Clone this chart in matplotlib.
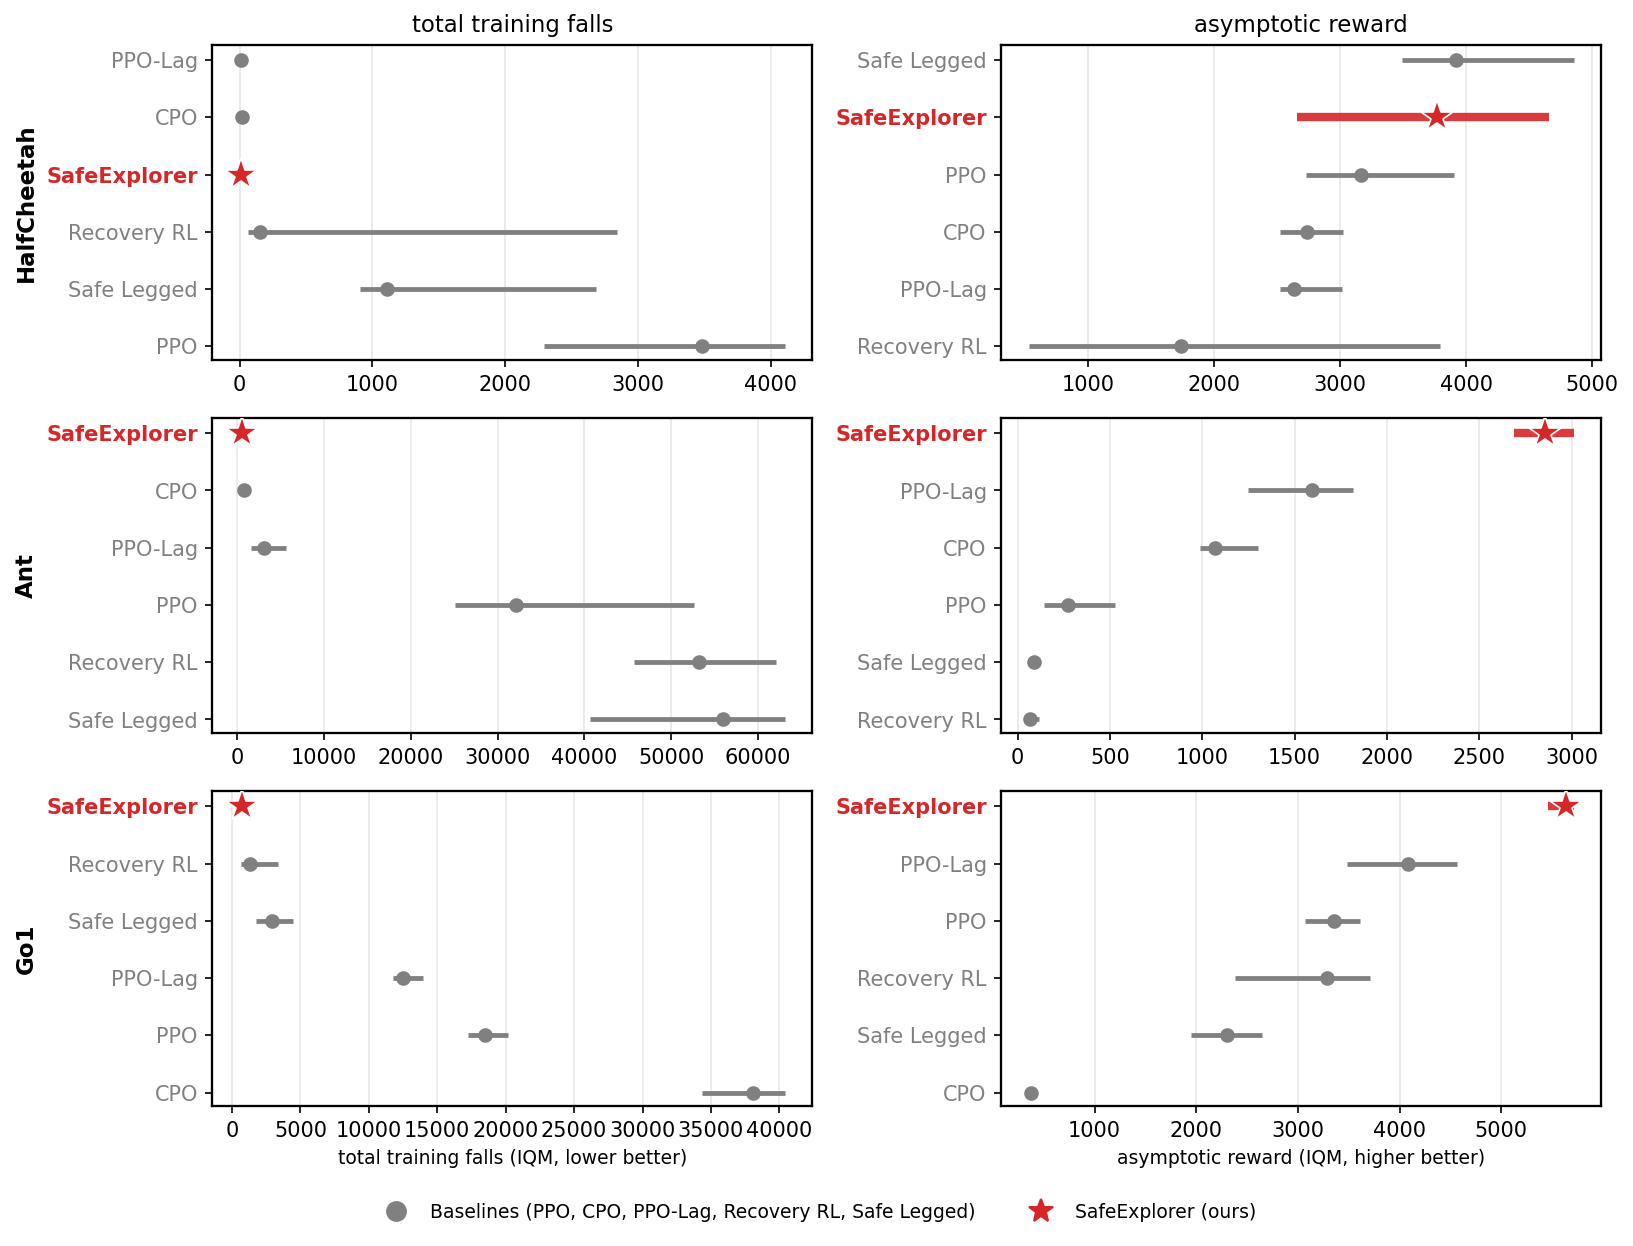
import numpy as np
import matplotlib.pyplot as plt
from matplotlib.lines import Line2D

# row / column labels
envs = ["HalfCheetah", "Ant", "Go1"]
col_titles = ["total training falls", "asymptotic reward"]
xlabels = ["total training falls (IQM, lower better)",
           "asymptotic reward (IQM, higher better)"]
ours = "SafeExplorer"

# HalfCheetah - falls (top to bottom)
hc_falls_methods = ["PPO-Lag", "CPO", "SafeExplorer", "Recovery RL", "Safe Legged", "PPO"]
hc_falls_iqm = [8, 15, 10, 150, 1113, 3484]
hc_falls_lo = [0, 5, 0, 63, 908, 2296]
hc_falls_hi = [20, 30, 25, 2843, 2682, 4109]

# HalfCheetah - reward
hc_rew_methods = ["Safe Legged", "SafeExplorer", "PPO", "CPO", "PPO-Lag", "Recovery RL"]
hc_rew_iqm = [3923, 3767, 3163, 2735, 2637, 1736]
hc_rew_lo = [3488, 2661, 2727, 2521, 2521, 527]
hc_rew_hi = [4857, 4655, 3907, 3027, 3019, 3796]

# Ant - falls
ant_falls_methods = ["SafeExplorer", "CPO", "PPO-Lag", "PPO", "Recovery RL", "Safe Legged"]
ant_falls_iqm = [540, 840, 3063, 32072, 53213, 55976]
ant_falls_lo = [300, 600, 1560, 25105, 45706, 40600]
ant_falls_hi = [800, 1100, 5586, 52673, 62102, 63123]

# Ant - reward
ant_rew_methods = ["SafeExplorer", "PPO-Lag", "CPO", "PPO", "Safe Legged", "Recovery RL"]
ant_rew_iqm = [2856, 1596, 1067, 274, 87, 70]
ant_rew_lo = [2688, 1249, 988, 143, 75, 60]
ant_rew_hi = [3013, 1815, 1302, 529, 100, 115]

# Go1 - falls
go1_falls_methods = ["SafeExplorer", "Recovery RL", "Safe Legged", "PPO-Lag", "PPO", "CPO"]
go1_falls_iqm = [725, 1298, 2901, 12519, 18473, 38053]
go1_falls_lo = [560, 687, 1756, 11794, 17252, 34351]
go1_falls_hi = [900, 3359, 4427, 13931, 20191, 40420]

# Go1 - reward
go1_rew_methods = ["SafeExplorer", "PPO-Lag", "PPO", "Recovery RL", "Safe Legged", "CPO"]
go1_rew_iqm = [5632, 4085, 3350, 3283, 2301, 378]
go1_rew_lo = [5458, 3483, 3072, 2378, 1951, 350]
go1_rew_hi = [5715, 4563, 3612, 3710, 2650, 420]

panels = [
    [(hc_falls_methods, hc_falls_iqm, hc_falls_lo, hc_falls_hi),
     (hc_rew_methods, hc_rew_iqm, hc_rew_lo, hc_rew_hi)],
    [(ant_falls_methods, ant_falls_iqm, ant_falls_lo, ant_falls_hi),
     (ant_rew_methods, ant_rew_iqm, ant_rew_lo, ant_rew_hi)],
    [(go1_falls_methods, go1_falls_iqm, go1_falls_lo, go1_falls_hi),
     (go1_rew_methods, go1_rew_iqm, go1_rew_lo, go1_rew_hi)],
]

GRAY = "#808080"
RED = "#d62728"

fig, axes = plt.subplots(3, 2, figsize=(10.893, 8.307), dpi=150)
fig.subplots_adjust(left=0.13, right=0.98, top=0.964, bottom=0.112,
                    wspace=0.315, hspace=0.184)

for r in range(3):
    for c in range(2):
        ax = axes[r, c]
        methods, iqm, lo, hi = panels[r][c]
        for i, m in enumerate(methods):
            if m == ours:
                ax.hlines(i, lo[i], hi[i], color=RED, lw=4, alpha=0.9, zorder=2)
                ax.plot(iqm[i], i, marker="*", ms=16, color=RED,
                        mec="white", mew=0.8, zorder=3)
            else:
                ax.hlines(i, lo[i], hi[i], color=GRAY, lw=2.3, zorder=2)
                ax.plot(iqm[i], i, marker="o", ms=6, color=GRAY, zorder=3)
        ax.set_yticks(range(len(methods)))
        ax.set_yticklabels(methods, fontsize=10)
        for lab, m in zip(ax.get_yticklabels(), methods):
            if m == ours:
                lab.set_color(RED)
                lab.set_fontweight("bold")
            else:
                lab.set_color(GRAY)
        ax.set_ylim(5.24, -0.265)
        ax.grid(axis="x", color="#e8e8e8", lw=0.8)
        ax.set_axisbelow(True)
        ax.tick_params(axis="x", labelsize=10)
        for s in ax.spines.values():
            s.set_linewidth(1.1)
        if r == 0:
            ax.set_title(col_titles[c], fontsize=11)
        if r == 2:
            ax.set_xlabel(xlabels[c], fontsize=9)
    pos = axes[r, 0].get_position()
    fig.text(0.016, (pos.y0 + pos.y1) / 2, envs[r], rotation=90,
             ha="center", va="center", fontsize=11, fontweight="bold")

handles = [
    Line2D([], [], ls="none", marker="o", ms=9, color=GRAY,
           label="Baselines (PPO, CPO, PPO-Lag, Recovery RL, Safe Legged)"),
    Line2D([], [], ls="none", marker="*", ms=12, color=RED,
           label="SafeExplorer (ours)"),
]
fig.legend(handles=handles, loc="center", bbox_to_anchor=(0.5, 0.027),
           ncol=2, frameon=False, fontsize=9, columnspacing=2.5)

plt.savefig("out.png", dpi=150)
